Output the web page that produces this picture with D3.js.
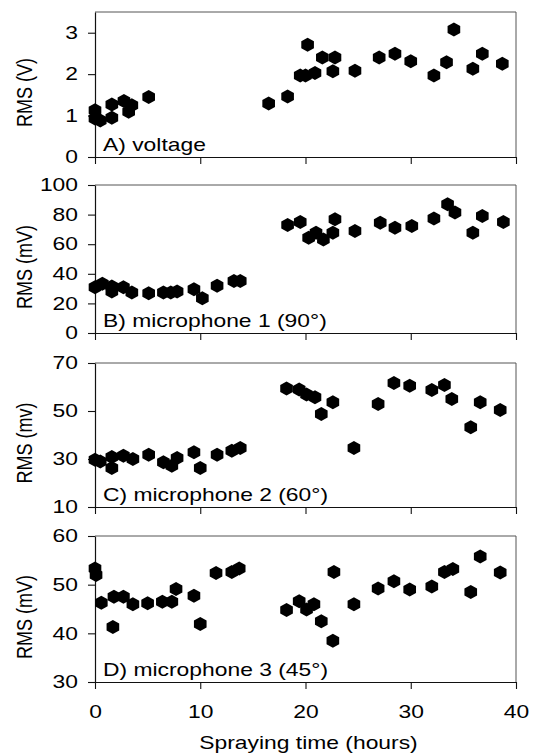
<!DOCTYPE html>
<html><head><meta charset="utf-8">
<script src="https://cdn.jsdelivr.net/npm/d3@7"></script>
<style>body{margin:0;background:#fff}svg{display:block}text{font-family:"Liberation Sans",Arial,sans-serif;fill:#000}</style>
</head><body>
<svg id="c" width="534" height="755"></svg>
<script>
// ---- data ----
const xTicks = [0, 10, 20, 30, 40];
const xTitle = "Spraying time (hours)";

const panelLabels = ["A) voltage", "B) microphone 1 (90°)", "C) microphone 2 (60°)", "D) microphone 3 (45°)"];
const yTitles = ["RMS (V)", "RMS (mV)", "RMS (mv)", "RMS (mV)"];
const yDomains = [[0, 3.5], [0, 100], [10, 70], [30, 60]];
const yTickVals = [[0, 1, 2, 3], [0, 20, 40, 60, 80, 100], [10, 30, 50, 70], [30, 40, 50, 60]];

const tA = [0,0,0.5,1.6,1.6,2.75,3.2,3.5,5.1,16.5,18.3,19.5,20.0,20.2,20.9,21.6,22.6,22.8,24.7,27.0,28.5,30.0,32.2,33.4,34.1,35.9,36.8,38.7];
const vA = [1.13,0.93,0.88,0.95,1.27,1.35,1.09,1.25,1.45,1.29,1.46,1.97,1.97,2.71,2.03,2.40,2.07,2.40,2.08,2.40,2.49,2.31,1.97,2.29,3.08,2.13,2.49,2.25];

const tB = [0,0.7,1.6,1.6,2.7,3.5,5.1,6.5,7.2,7.8,9.4,10.2,11.6,13.2,13.8,18.3,19.5,20.3,21.0,21.7,22.6,22.8,24.7,27.1,28.5,30.1,32.2,33.5,34.2,35.9,36.8,38.8];
const vB = [30.9,33.2,28,31.4,30.9,27.3,26.8,27.3,27.3,28,29.5,23.4,32,35.2,35.2,73,75,64.3,67.7,63.2,67.7,76.8,68.9,74.5,71.1,72.3,77.3,87,81.4,67.7,79.1,75];

const tC = [0,0.5,1.6,1.6,2.7,3.6,5.1,6.5,7.3,7.8,9.4,10.0,11.6,13.0,13.8,18.2,19.4,20.1,20.9,21.5,22.6,24.6,26.9,28.4,29.9,32.0,33.2,33.9,35.7,36.6,38.5];
const vC = [29.7,29,30.8,26.3,31.4,30,31.8,28.6,27.2,30.4,32.8,26.3,31.8,33.4,34.6,59.4,59,56.9,55.7,48.8,53.6,34.6,52.9,61.7,60.5,58.7,60.8,55,43.2,53.6,50.4];

const tD = [0,0.1,0.6,1.7,1.8,2.7,3.6,5.0,6.4,7.3,7.7,9.4,10.0,11.5,13.0,13.7,18.2,19.4,20.1,20.8,21.5,22.6,22.7,24.6,26.9,28.4,29.9,32.0,33.2,34.0,35.7,36.6,38.5];
const vD = [53.3,52,46.3,41.3,47.5,47.5,46,46.2,46.5,46.5,49.1,47.7,41.9,52.4,52.6,53.3,44.8,46.6,44.9,46,42.5,38.5,52.6,46,49.2,50.7,49,49.6,52.6,53.2,48.5,55.8,52.5];

const times = [tA, tB, tC, tD];
const values = [vA, vB, vC, vD];

// ---- layout ----
const SX = 1.27;            // horizontal stretch of the scanned text
const FS = 18;
const left = 95, right = 516;
const panelBox = [[12, 157], [185, 333], [363, 507], [536, 682]];

const svg = d3.select("#c");
const x = d3.scaleLinear().domain([0, 40]).range([left, right]);

// hexagon marker (pointy top)
const hexPts = d3.range(6).map(i => {
  const a = Math.PI / 2 + i * Math.PI / 3;
  return [7.3 * Math.cos(a), 7 * Math.sin(a)];
});
const hexPath = d3.line().curve(d3.curveLinearClosed)(hexPts);

panelBox.forEach(([top, bottom], p) => {
  const y = d3.scaleLinear().domain(yDomains[p]).range([bottom, top]);
  const g = svg.append("g");

  // frame (top and right)
  g.append("path")
    .attr("d", `M${left},${top}H${right}V${bottom}`)
    .attr("fill", "none").attr("stroke", "#555").attr("stroke-width", 1);

  // y axis
  const ya = g.append("g").attr("transform", `translate(${left},0)`)
    .call(d3.axisLeft(y).tickValues(yTickVals[p]).tickFormat(d3.format("d"))
      .tickSize(7).tickPadding(10).tickSizeOuter(0));
  ya.select(".domain").attr("stroke", "#111").attr("stroke-width", 1.2);
  ya.selectAll(".tick line").attr("stroke", "#111").attr("stroke-width", 1.1);
  ya.selectAll("text").attr("font-size", FS).attr("font-family", null)
    .attr("x", -17 / SX).attr("transform", `scale(${SX},1)`).attr("fill", "#000");

  // x axis
  const xa = g.append("g").attr("transform", `translate(0,${bottom})`)
    .call(d3.axisBottom(x).tickValues(xTicks).tickSize(7).tickPadding(16).tickSizeOuter(0)
      .tickFormat(p === 3 ? d3.format("d") : () => ""));
  xa.select(".domain").attr("stroke", "#111").attr("stroke-width", 1.2);
  xa.selectAll(".tick line").attr("stroke", "#111").attr("stroke-width", 1.1);
  xa.selectAll("text").attr("font-size", FS).attr("font-family", null)
    .attr("transform", `scale(${SX},1)`).attr("fill", "#000");

  // points
  g.append("g").selectAll("path").data(times[p].map((t, i) => [t, values[p][i]]))
    .join("path")
    .attr("d", hexPath)
    .attr("transform", d => `translate(${x(d[0])},${y(d[1])})`)
    .attr("fill", "#000");

  // panel label
  g.append("text")
    .attr("transform", `translate(${left + 8},${bottom - 6}) scale(${SX},1)`)
    .attr("font-size", FS).text(panelLabels[p]);

  // y title
  g.append("text")
    .attr("transform", `translate(32,${(top + bottom) / 2 + 8}) rotate(-90) scale(1,${SX})`)
    .attr("text-anchor", "middle").attr("font-size", FS).text(yTitles[p]);
});

svg.append("text")
  .attr("transform", `translate(${(left + right) / 2 + 3},749) scale(${SX},1)`)
  .attr("text-anchor", "middle").attr("font-size", FS).text(xTitle);
</script>
</body></html>
